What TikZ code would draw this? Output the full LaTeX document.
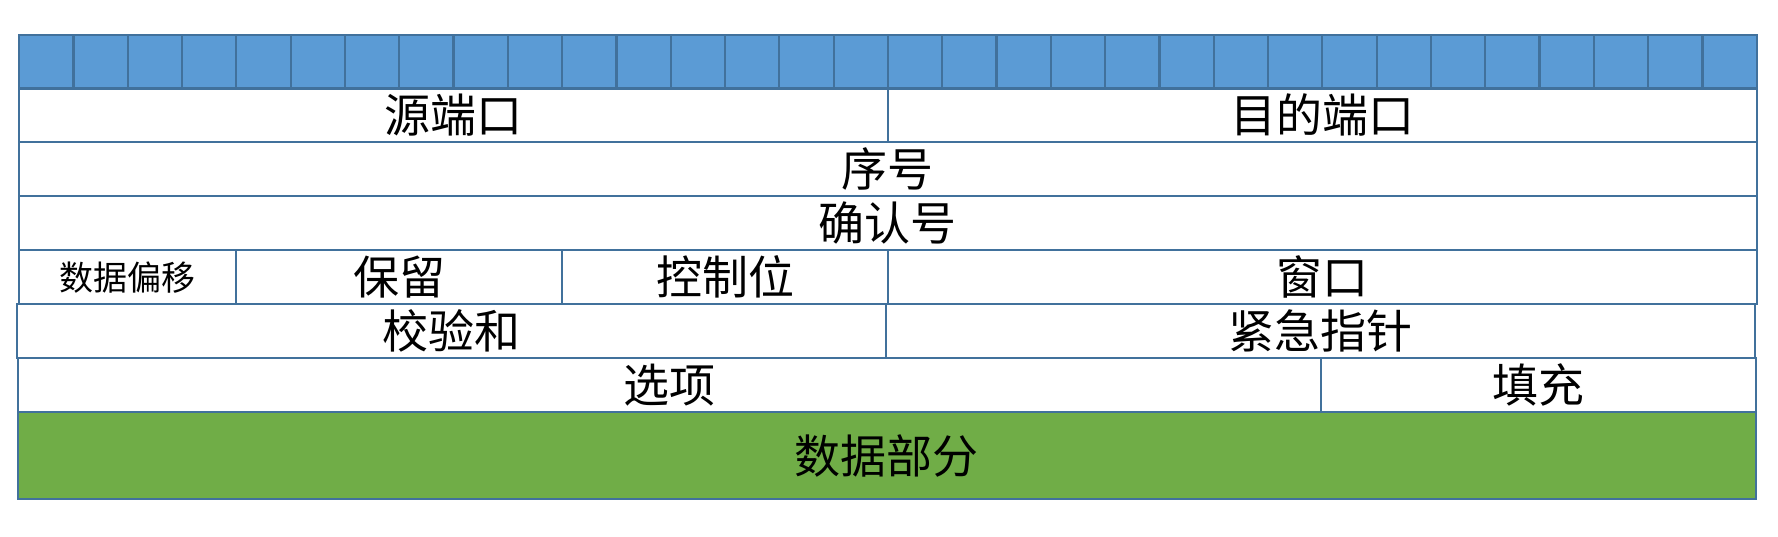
\documentclass[tikz,border=0pt]{standalone}
\usepackage{fontspec}
\newfontfamily\cjk{Noto Sans CJK SC}
\definecolor{frame}{HTML}{41719C}
\definecolor{bitblue}{HTML}{5B9BD5}
\definecolor{datagreen}{HTML}{70AD47}

\begin{document}
\begin{tikzpicture}[x=0.5pt,y=-0.5pt,
  field/.style={draw=frame,line width=1.1pt,anchor=north west,inner sep=0pt,
    minimum height=27pt,font=\cjk\fontsize{23}{23}\selectfont},
  bits/.style={minimum width={#1*27.15pt}},
  bitcell/.style={field,bits=1,fill=bitblue},
  small/.style={font=\cjk\fontsize{17}{17}\selectfont}]
\useasboundingbox (0,0) rectangle (1778,536);
% ---------- 位刻度（32 位） ----------
\foreach \i in {0,...,31}
  \node[bitcell] (bit\i) at ({18+54.3*\i},34) {};
% ---------- 第 1 行 ----------
\node[field,bits=16] (srcport) at (18,87) {源端口};
\node[field,bits=16] (dstport) at (886.8,87) {目的端口};
% ---------- 第 2、3 行 ----------
\node[field,bits=32] (seqno) at (18,141) {序号};
\node[field,bits=32] (ackno) at (18,195) {确认号};
% ---------- 第 4 行 ----------
\node[field,bits=4,small] (offset) at (18,249) {数据偏移};
\node[field,bits=6] (reserved) at (235.2,249) {保留};
\node[field,bits=6] (ctrlbits) at (561,249) {控制位};
\node[field,bits=16] (window) at (886.8,249) {窗口};
% ---------- 第 5 行 ----------
\node[field,bits=16] (checksum) at (16,303) {校验和};
\node[field,bits=16] (urgptr) at (884.8,303) {紧急指针};
% ---------- 第 6 行 ----------
\node[field,bits=24] (options) at (17,357) {选项};
\node[field,bits=8] (padding) at (1320.2,357) {填充};
% ---------- 数据 ----------
\node[field,bits=32,minimum height=43.5pt,fill=datagreen] (payload) at (17,411) {数据部分};
\end{tikzpicture}
\end{document}
